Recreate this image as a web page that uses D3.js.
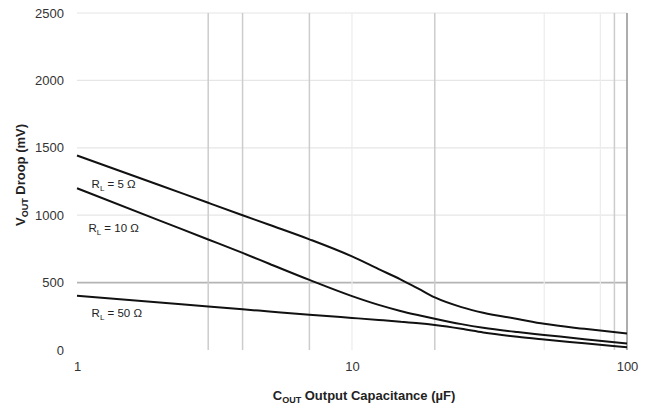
<!DOCTYPE html>
<html>
<head>
<meta charset="utf-8">
<script src="https://cdn.jsdelivr.net/npm/d3@7"></script>
<style>
  body { margin: 0; background: #fff; }
  text { font-family: "Liberation Sans", Arial, sans-serif; }
</style>
</head>
<body>
<div id="chart"></div>
<script>
// capacitance (uF) sample points
var capacitance = [1, 2, 3, 4, 5, 7, 10, 12.5, 15, 17.5, 20, 25, 30, 40, 50, 70, 100];
// droop in mV per load
var droopRL5  = [1443, 1222, 1092, 1000, 929, 821, 694, 600, 524, 453, 390, 318, 276, 230, 194, 157, 122];
var droopRL10 = [1200, 960, 820, 720, 640, 520, 400, 335, 290, 258, 232, 192, 165, 133, 112, 80, 48];
var droopRL50 = [403, 353, 323, 302, 286, 262, 238, 223, 210, 198, 185, 157, 130, 98, 78, 50, 20];

var yTicks = [0, 500, 1000, 1500, 2000, 2500];
var xTicks = [1, 10, 100];
// vertical grid lines, two shades
var xGridDark = [3, 4, 7, 20, 90];
var xGridLight = [10, 50, 80];

var seriesNames = ["5", "10", "50"];
var labelC = [1.13, 1.1, 1.13];
var labelMv = [1200, 875, 245];

var width = 650, height = 409;
var plotL = 77, plotR = 627, plotT = 13, plotB = 350;

var svg = d3.select("#chart").append("svg")
    .attr("width", width)
    .attr("height", height);

var x = d3.scaleLog().domain([1, 100]).range([plotL, plotR]);
var y = d3.scaleLinear().domain([0, 2500]).range([plotB, plotT]);

// horizontal grid
svg.append("g").selectAll("line")
    .data(yTicks.filter(function(d) { return d > 0; }))
    .enter().append("line")
    .attr("x1", plotL).attr("x2", plotR)
    .attr("y1", function(d) { return y(d); })
    .attr("y2", function(d) { return y(d); })
    .attr("stroke", function(d) { return d === 500 ? "#b4b4b4" : "#e6e6e6"; })
    .attr("stroke-width", function(d) { return d === 500 ? 1.6 : 1.2; });

// vertical grid
svg.append("g").selectAll("line")
    .data(xGridLight)
    .enter().append("line")
    .attr("x1", function(d) { return x(d); })
    .attr("x2", function(d) { return x(d); })
    .attr("y1", plotT).attr("y2", plotB)
    .attr("stroke", "#ececec")
    .attr("stroke-width", 1.2);

svg.append("g").selectAll("line")
    .data(xGridDark)
    .enter().append("line")
    .attr("x1", function(d) { return x(d); })
    .attr("x2", function(d) { return x(d); })
    .attr("y1", plotT).attr("y2", plotB)
    .attr("stroke", "#cccccc")
    .attr("stroke-width", 1.5);

// right border at 100
svg.append("line")
    .attr("x1", x(100)).attr("x2", x(100))
    .attr("y1", plotT).attr("y2", plotB)
    .attr("stroke", "#999")
    .attr("stroke-width", 1.6);

// axes
var yAxis = svg.append("g")
    .attr("transform", "translate(" + plotL + ",0)")
    .call(d3.axisLeft(y).tickValues(yTicks).tickFormat(d3.format("d")).tickSize(0).tickPadding(13));
yAxis.select(".domain").remove();
yAxis.selectAll("text").attr("font-size", 13).attr("fill", "#333")
    .style("font-family", "Liberation Sans, Arial, sans-serif");

var xAxis = svg.append("g")
    .attr("transform", "translate(0," + plotB + ")")
    .call(d3.axisBottom(x).tickValues(xTicks).tickFormat(d3.format("d")).tickSize(0).tickPadding(12));
xAxis.select(".domain").remove();
xAxis.selectAll("text").attr("font-size", 13).attr("fill", "#333")
    .style("font-family", "Liberation Sans, Arial, sans-serif");

// lines
var line = d3.line()
    .x(function(d) { return x(d.c); })
    .y(function(d) { return y(d.v); })
    .curve(d3.curveMonotoneX);

[droopRL5, droopRL10, droopRL50].forEach(function(vals) {
    var pts = capacitance.map(function(c, i) { return { c: c, v: vals[i] }; });
    svg.append("path")
        .datum(pts)
        .attr("d", line)
        .attr("fill", "none")
        .attr("stroke", "#111")
        .attr("stroke-width", 2);
});

// curve labels
seriesNames.forEach(function(name, i) {
    var t = svg.append("text")
        .attr("x", x(labelC[i]))
        .attr("y", y(labelMv[i]))
        .attr("font-size", 11.5)
        .attr("fill", "#222");
    t.append("tspan").text("R");
    t.append("tspan").attr("font-size", 8).attr("dy", 3).text("L");
    t.append("tspan").attr("dy", -3).text(" = " + name + " \u03A9");
});

// axis titles
var yt = svg.append("text")
    .attr("transform", "translate(25," + 175 + ") rotate(-90)")
    .attr("text-anchor", "middle")
    .attr("font-size", 13)
    .attr("font-weight", "bold")
    .attr("fill", "#222");
yt.append("tspan").text("V");
yt.append("tspan").attr("font-size", 9).attr("dy", 3).text("OUT");
yt.append("tspan").attr("dy", -3).text(" Droop (mV)");

var xt = svg.append("text")
    .attr("x", 364)
    .attr("y", 400)
    .attr("text-anchor", "middle")
    .attr("font-size", 13)
    .attr("font-weight", "bold")
    .attr("fill", "#222");
xt.append("tspan").text("C");
xt.append("tspan").attr("font-size", 9).attr("dy", 3).text("OUT");
xt.append("tspan").attr("dy", -3).text(" Output Capacitance (\u00B5F)");
</script>
</body>
</html>
